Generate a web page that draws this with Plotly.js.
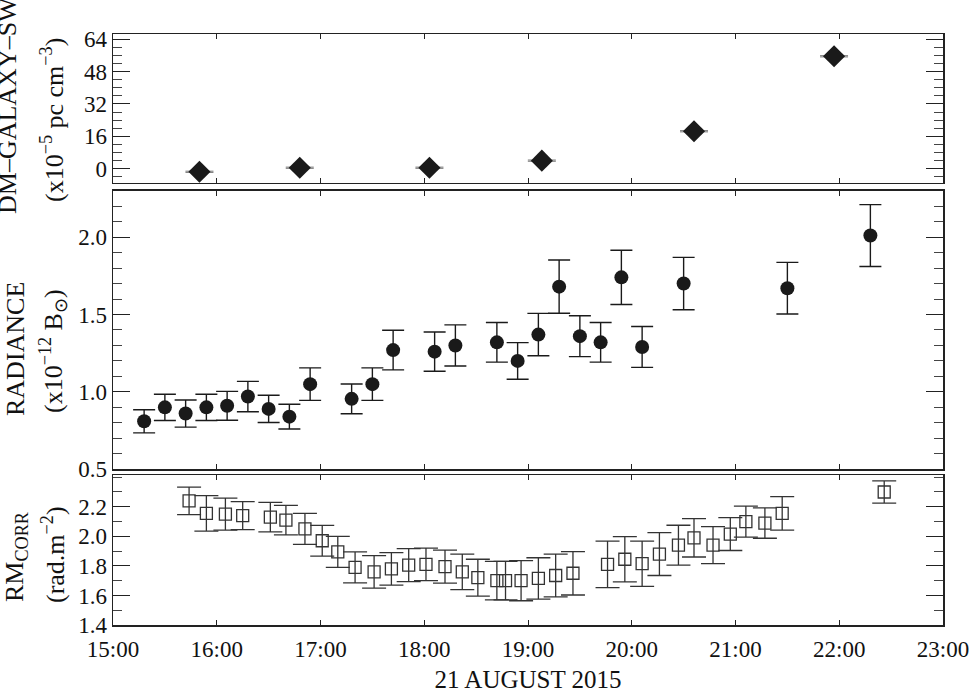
<!DOCTYPE html>
<html>
<head>
<meta charset="utf-8">
<script src="https://cdn.plot.ly/plotly-3.0.1.min.js"></script>
<style>
  html, body { margin: 0; padding: 0; background: #fff; }
  #chart { width: 969px; height: 693px; }
</style>
</head>
<body>
<div id="chart"></div>
<script>
var day = '2015-08-21 '

// DM-GALAXY-SW (top)
var dmTimes = ['15:50', '16:48', '18:03', '19:08', '20:36', '21:57']
var dmValues = [-1.5, 0.5, 0.5, 4, 18.5, 55.5]
var dmErr = [0.3, 0.3, 0.3, 0.3, 0.3, 0.3]

// RADIANCE (middle)
var radTimes = ['15:18', '15:30', '15:42', '15:54', '16:06', '16:18', '16:30', '16:42', '16:54',
	'17:18', '17:30', '17:42', '18:06', '18:18', '18:42', '18:54', '19:06', '19:18', '19:30',
	'19:42', '19:54', '20:06', '20:30', '21:30', '22:18']
var radValues = [0.81, 0.90, 0.86, 0.90, 0.91, 0.97, 0.89, 0.84, 1.05,
	0.955, 1.05, 1.27, 1.26, 1.30, 1.32, 1.20, 1.37, 1.68, 1.36,
	1.32, 1.74, 1.29, 1.70, 1.67, 2.01]
var radErr = [0.075, 0.085, 0.088, 0.085, 0.093, 0.098, 0.088, 0.08, 0.105,
	0.096, 0.105, 0.128, 0.127, 0.133, 0.128, 0.118, 0.137, 0.172, 0.132,
	0.128, 0.175, 0.132, 0.169, 0.167, 0.20]

// RM_CORR (bottom)
var rmTimes = ['15:44', '15:54', '16:05', '16:15', '16:31', '16:40', '16:51', '17:01', '17:10',
	'17:20', '17:31', '17:41', '17:51', '18:01', '18:12', '18:22', '18:31', '18:42', '18:47',
	'18:56', '19:06', '19:16', '19:26', '19:46', '19:56', '20:06', '20:16', '20:27', '20:36',
	'20:47', '20:57', '21:06', '21:17', '21:27', '22:26']
var rmValues = [2.24, 2.155, 2.15, 2.14, 2.13, 2.11, 2.05, 1.97, 1.895,
	1.79, 1.76, 1.78, 1.805, 1.81, 1.795, 1.76, 1.72, 1.70, 1.70,
	1.70, 1.715, 1.735, 1.75, 1.81, 1.845, 1.815, 1.88, 1.94, 1.99,
	1.94, 2.015, 2.10, 2.09, 2.155, 2.30]
var rmErr = [0.093, 0.12, 0.108, 0.095, 0.10, 0.10, 0.105, 0.104, 0.105,
	0.105, 0.11, 0.11, 0.112, 0.11, 0.112, 0.12, 0.125, 0.13, 0.13,
	0.136, 0.14, 0.145, 0.147, 0.157, 0.153, 0.153, 0.145, 0.135, 0.13,
	0.125, 0.111, 0.105, 0.103, 0.113, 0.075]

var dmTicks = [0, 16, 32, 48, 64]
var radTicks = [0.5, 1.0, 1.5, 2.0]
var rmTicks = [1.4, 1.6, 1.8, 2.0, 2.2]

function full(t)
{
	return t.map(function(s) { return day + s })
}

var serif = 'Liberation Serif, Times New Roman, serif'

var dm = {
	type: 'scatter', mode: 'markers',
	x: full(dmTimes), y: dmValues,
	xaxis: 'x3', yaxis: 'y3',
	error_y: {type: 'data', array: dmErr, color: '#777', thickness: 1, width: 14},
	marker: {symbol: 'diamond', size: 17, color: '#1a1a1a'}
}

var rad = {
	type: 'scatter', mode: 'markers',
	x: full(radTimes), y: radValues,
	xaxis: 'x2', yaxis: 'y2',
	error_y: {type: 'data', array: radErr, color: '#1a1a1a', thickness: 1.4, width: 11},
	marker: {symbol: 'circle', size: 14, color: '#1a1a1a'}
}

var rm = {
	type: 'scatter', mode: 'markers',
	x: full(rmTimes), y: rmValues,
	xaxis: 'x', yaxis: 'y',
	error_y: {type: 'data', array: rmErr, color: '#333', thickness: 1.3, width: 12},
	marker: {symbol: 'square-open', size: 12, color: '#333', line: {width: 1.3}}
}

function xAx(anchor, labels)
{
	return {
		type: 'date', anchor: anchor,
		range: [day + '15:00', day + '23:00'],
		tick0: day + '15:00', dtick: 3600000, tickformat: '%H:%M',
		ticks: 'inside', ticklen: 5, tickcolor: '#222',
		showticklabels: labels, ticklabeloverflow: 'allow', ticklabelstandoff: 3,
		showline: true, mirror: 'ticks', linecolor: '#222', linewidth: 1.5,
		showgrid: false, zeroline: false,
		tickfont: {family: serif, size: 23, color: '#111'}
	}
}

function yAx(anchor, domain, range, ticks, minorDtick, fmt)
{
	return {
		anchor: anchor, domain: domain, range: range,
		tickmode: 'array', tickvals: ticks, tickformat: fmt,
		ticks: 'inside', ticklen: 17, tickcolor: '#222',
		minor: {tickmode: 'linear', tick0: 0, dtick: minorDtick, ticks: 'inside', ticklen: 9, tickcolor: '#444', showgrid: false},
		showline: true, mirror: 'ticks', linecolor: '#222', linewidth: 1.5,
		showgrid: false, zeroline: false,
		tickfont: {family: serif, size: 23, color: '#111'}
	}
}

var x1 = xAx('y', true)
x1.title = {text: '21 AUGUST 2015', font: {family: serif, size: 25, color: '#111'}, standoff: 10}

function label(txt, px, py)
{
	return {
		xref: 'paper', yref: 'paper',
		x: (px - 113) / 830, y: (625 - py) / 591,
		xanchor: 'center', yanchor: 'middle',
		text: txt, textangle: -90, showarrow: false,
		font: {family: serif, size: 26, color: '#111'}
	}
}

var layout = {
	width: 969, height: 693,
	margin: {l: 113, r: 26, t: 34, b: 68},
	font: {family: serif, size: 23, color: '#111'},
	paper_bgcolor: '#fff', plot_bgcolor: '#fff',
	showlegend: false,
	xaxis: x1,
	xaxis2: xAx('y2', false),
	xaxis3: xAx('y3', false),
	yaxis: yAx('x', [0, 0.2538], [1.4, 2.415], rmTicks, 0.1, '.1f'),
	yaxis2: yAx('x2', [0.2635, 0.7349], [0.5, 2.3], radTicks, 0.1, '.1f'),
	yaxis3: yAx('x3', [0.748, 1], [-7, 66.5], dmTicks, 4, 'd'),
	annotations: [
		label('DM\u2013GALAXY\u2013SW', 7, 106),
		label('(x10<sup>\u22125</sup> pc cm<sup>\u22123</sup>)', 52, 120),
		label('RADIANCE', 16, 349),
		label('(x10<sup>\u221212</sup> B<sub>\u2299</sub>)', 53, 351),
		label('RM<sub>CORR</sub>', 16, 557),
		label('(rad.m<sup>\u22122</sup>)', 53, 555)
	]
}

Plotly.newPlot('chart', [rm, rad, dm], layout, {displayModeBar: false, staticPlot: true})
</script>
</body>
</html>
